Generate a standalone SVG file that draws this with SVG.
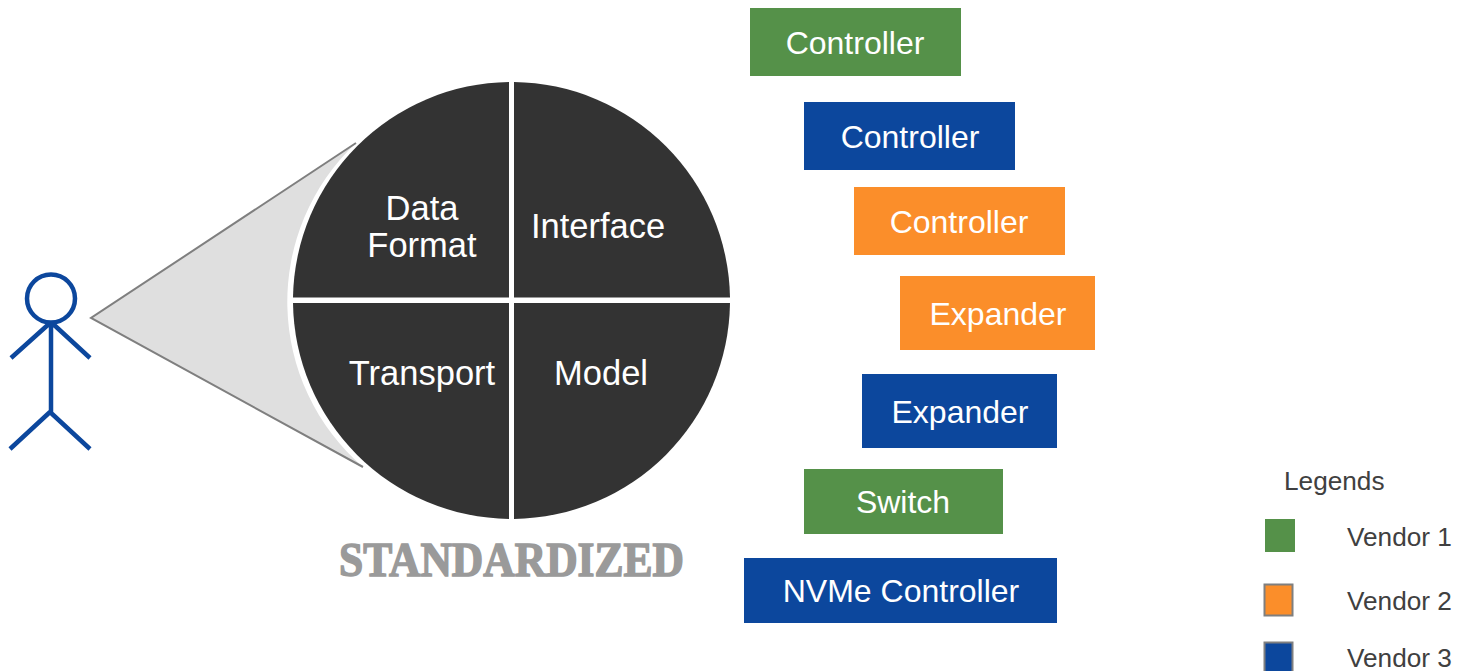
<svg xmlns="http://www.w3.org/2000/svg" width="1470" height="671" viewBox="0 0 1470 671">
<style>
text{font-family:"Liberation Sans",Arial,sans-serif}
.w{fill:#fff;font-size:32px;text-anchor:middle}
.c{fill:#fff;font-size:34.500px;text-anchor:middle}
.k{fill:#404040;font-size:26.200px}
.g{fill:#559149}.o{fill:#fb8e2a}.b{fill:#0c479d}
.q{fill:#333}
.s{fill:none;stroke:#0c479d;stroke-width:4.5}
</style>
<rect width="1470" height="671" fill="#fff"/>
<g id="cone"><path d="M91 318L356 143A218 218 0 0 0 363 467Z" fill="#dfdfdf"/><path d="M356 143L91 318L363 467" fill="none" stroke="#7f7f7f" stroke-width="2"/></g>
<g id="person" class="s"><circle cx="51" cy="298.500" r="24"/><path d="M51 323V412M50 323L11 358M52 323L90 358M50 412L10 449M50 412L90 449"/></g>
<g id="wheel">
<g id="data-format"><path class="q" d="M509 82V297.500H293A219 219 0 0 1 509 82Z"/><text class="c"><tspan x="422" y="220">Data</tspan><tspan x="422" y="257">Format</tspan></text></g>
<g id="interface"><path class="q" d="M514 82A219 219 0 0 1 730 297.500H514Z"/><text class="c" x="598" y="238">Interface</text></g>
<g id="transport"><path class="q" d="M293 303H509V519A219 219 0 0 1 293 303Z"/><text class="c" x="422" y="385">Transport</text></g>
<g id="model"><path class="q" d="M514 303H730A219 219 0 0 1 514 519Z"/><text class="c" x="601" y="385">Model</text></g>
</g>
<text id="standardized" x="339" y="576" font-size="48" font-weight="bold" textLength="345" lengthAdjust="spacingAndGlyphs" fill="#9a9a9a" stroke="#9a9a9a" stroke-width="1.500" style="font-family:'Liberation Serif','Times New Roman',serif">STANDARDIZED</text>
<g id="n1"><rect class="g" x="750" y="8" width="211" height="68"/><text class="w" x="855" y="54">Controller</text></g>
<g id="n2"><rect class="b" x="804" y="102" width="211" height="68"/><text class="w" x="910" y="148">Controller</text></g>
<g id="n3"><rect class="o" x="854" y="187" width="211" height="68"/><text class="w" x="959" y="233">Controller</text></g>
<g id="n4"><rect class="o" x="900" y="276" width="195" height="74"/><text class="w" x="998" y="325">Expander</text></g>
<g id="n5"><rect class="b" x="862" y="374" width="195" height="74"/><text class="w" x="960" y="423">Expander</text></g>
<g id="n6"><rect class="g" x="804" y="469" width="199" height="65"/><text class="w" x="903" y="513">Switch</text></g>
<g id="n7"><rect class="b" x="744" y="558" width="313" height="65"/><text class="w" x="901" y="602">NVMe Controller</text></g>
<g id="connectors"/>
<g id="legend">
<text class="k" x="1284" y="490">Legends</text>
<rect class="g" x="1265" y="519" width="30" height="33"/><text class="k" x="1347" y="546">Vendor 1</text>
<rect class="o" x="1264.500" y="584.500" width="28" height="31" stroke="#7f7f7f" stroke-width="2"/><text class="k" x="1347" y="610">Vendor 2</text>
<rect class="b" x="1264.500" y="642.500" width="28" height="31" stroke="#7f7f7f" stroke-width="2"/><text class="k" x="1347" y="667">Vendor 3</text>
</g>
</svg>
